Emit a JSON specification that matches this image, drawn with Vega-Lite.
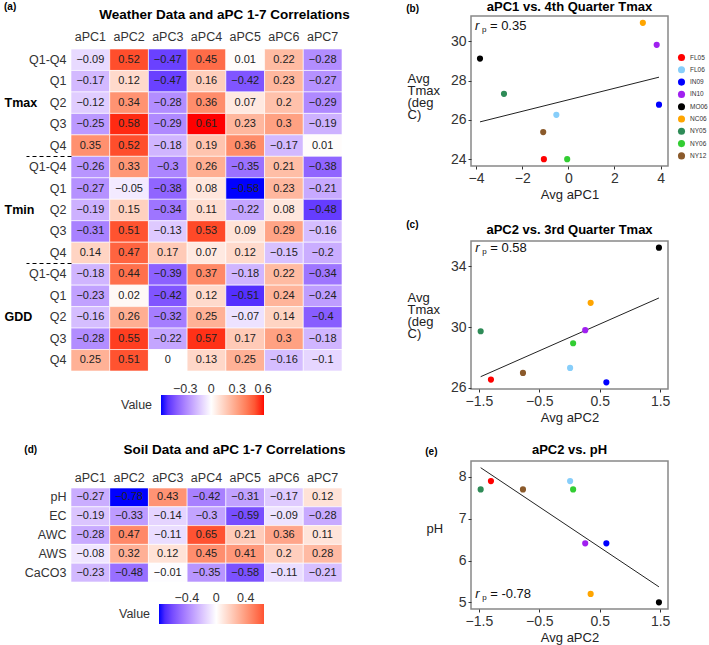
{
  "padding": {"left": 4, "top": 0, "right": 0, "bottom": 0},
  "spacing": 56,
  "config": {
    "font": "Liberation Sans",
    "view": {"stroke": null},
    "axis": {"labelFont": "Liberation Sans", "titleFont": "Liberation Sans", "grid": false},
    "legend": {"labelFont": "Liberation Sans", "titleFont": "Liberation Sans"},
    "title": {"font": "Liberation Sans"}
  },
  "hconcat": [
    {
      "spacing": 70,
      "vconcat": [
        {
          "title": {"text": "(a)", "anchor": "start", "frame": "bounds", "fontSize": 10, "fontWeight": "bold", "offset": -4},
          "spacing": 5,
          "vconcat": [
            {
              "title": {"text": "Weather Data and aPC 1-7 Correlations", "fontSize": 13.5, "fontWeight": "bold", "color": "#000", "anchor": "middle", "dx": 18, "offset": -5},
              "width": 271,
              "height": 12,
              "data": {"values": [{"c": "aPC1"}, {"c": "aPC2"}, {"c": "aPC3"}, {"c": "aPC4"}, {"c": "aPC5"}, {"c": "aPC6"}, {"c": "aPC7"}]},
              "mark": {"type": "rect", "opacity": 0},
              "encoding": {
                "x": {"field": "c", "type": "nominal", "sort": null, "axis": {"orient": "bottom", "title": null, "domain": false, "ticks": false, "labelAngle": 0, "labelFontSize": 12.5, "labelColor": "#333", "labelPadding": 2.5}}
              }
            },
            {
              "width": 271,
              "height": 322,
              "data": {"values": [
                {"k":"Tmax:Q1-Q4","g":"Tmax","c":"aPC1","v":-0.09},{"k":"Tmax:Q1-Q4","g":"Tmax","c":"aPC2","v":0.52},{"k":"Tmax:Q1-Q4","g":"Tmax","c":"aPC3","v":-0.47},{"k":"Tmax:Q1-Q4","g":"Tmax","c":"aPC4","v":0.45},{"k":"Tmax:Q1-Q4","g":"Tmax","c":"aPC5","v":0.01},{"k":"Tmax:Q1-Q4","g":"Tmax","c":"aPC6","v":0.22},{"k":"Tmax:Q1-Q4","g":"Tmax","c":"aPC7","v":-0.28},
                {"k":"Tmax:Q1","g":"Tmax","c":"aPC1","v":-0.17},{"k":"Tmax:Q1","g":"Tmax","c":"aPC2","v":0.12},{"k":"Tmax:Q1","g":"Tmax","c":"aPC3","v":-0.47},{"k":"Tmax:Q1","g":"Tmax","c":"aPC4","v":0.16},{"k":"Tmax:Q1","g":"Tmax","c":"aPC5","v":-0.42},{"k":"Tmax:Q1","g":"Tmax","c":"aPC6","v":0.23},{"k":"Tmax:Q1","g":"Tmax","c":"aPC7","v":-0.27},
                {"k":"Tmax:Q2","g":"Tmax","c":"aPC1","v":-0.12},{"k":"Tmax:Q2","g":"Tmax","c":"aPC2","v":0.34},{"k":"Tmax:Q2","g":"Tmax","c":"aPC3","v":-0.28},{"k":"Tmax:Q2","g":"Tmax","c":"aPC4","v":0.36},{"k":"Tmax:Q2","g":"Tmax","c":"aPC5","v":0.07},{"k":"Tmax:Q2","g":"Tmax","c":"aPC6","v":0.2},{"k":"Tmax:Q2","g":"Tmax","c":"aPC7","v":-0.29},
                {"k":"Tmax:Q3","g":"Tmax","c":"aPC1","v":-0.25},{"k":"Tmax:Q3","g":"Tmax","c":"aPC2","v":0.58},{"k":"Tmax:Q3","g":"Tmax","c":"aPC3","v":-0.29},{"k":"Tmax:Q3","g":"Tmax","c":"aPC4","v":0.61},{"k":"Tmax:Q3","g":"Tmax","c":"aPC5","v":0.23},{"k":"Tmax:Q3","g":"Tmax","c":"aPC6","v":0.3},{"k":"Tmax:Q3","g":"Tmax","c":"aPC7","v":-0.19},
                {"k":"Tmax:Q4","g":"Tmax","c":"aPC1","v":0.35},{"k":"Tmax:Q4","g":"Tmax","c":"aPC2","v":0.52},{"k":"Tmax:Q4","g":"Tmax","c":"aPC3","v":-0.18},{"k":"Tmax:Q4","g":"Tmax","c":"aPC4","v":0.19},{"k":"Tmax:Q4","g":"Tmax","c":"aPC5","v":0.36},{"k":"Tmax:Q4","g":"Tmax","c":"aPC6","v":-0.17},{"k":"Tmax:Q4","g":"Tmax","c":"aPC7","v":0.01},
                {"k":"Tmin:Q1-Q4","g":"Tmin","c":"aPC1","v":-0.26},{"k":"Tmin:Q1-Q4","g":"Tmin","c":"aPC2","v":0.33},{"k":"Tmin:Q1-Q4","g":"Tmin","c":"aPC3","v":-0.3},{"k":"Tmin:Q1-Q4","g":"Tmin","c":"aPC4","v":0.26},{"k":"Tmin:Q1-Q4","g":"Tmin","c":"aPC5","v":-0.35},{"k":"Tmin:Q1-Q4","g":"Tmin","c":"aPC6","v":0.21},{"k":"Tmin:Q1-Q4","g":"Tmin","c":"aPC7","v":-0.38},
                {"k":"Tmin:Q1","g":"Tmin","c":"aPC1","v":-0.27},{"k":"Tmin:Q1","g":"Tmin","c":"aPC2","v":-0.05},{"k":"Tmin:Q1","g":"Tmin","c":"aPC3","v":-0.38},{"k":"Tmin:Q1","g":"Tmin","c":"aPC4","v":0.08},{"k":"Tmin:Q1","g":"Tmin","c":"aPC5","v":-0.58},{"k":"Tmin:Q1","g":"Tmin","c":"aPC6","v":0.23},{"k":"Tmin:Q1","g":"Tmin","c":"aPC7","v":-0.21},
                {"k":"Tmin:Q2","g":"Tmin","c":"aPC1","v":-0.19},{"k":"Tmin:Q2","g":"Tmin","c":"aPC2","v":0.15},{"k":"Tmin:Q2","g":"Tmin","c":"aPC3","v":-0.34},{"k":"Tmin:Q2","g":"Tmin","c":"aPC4","v":0.11},{"k":"Tmin:Q2","g":"Tmin","c":"aPC5","v":-0.22},{"k":"Tmin:Q2","g":"Tmin","c":"aPC6","v":0.08},{"k":"Tmin:Q2","g":"Tmin","c":"aPC7","v":-0.48},
                {"k":"Tmin:Q3","g":"Tmin","c":"aPC1","v":-0.31},{"k":"Tmin:Q3","g":"Tmin","c":"aPC2","v":0.51},{"k":"Tmin:Q3","g":"Tmin","c":"aPC3","v":-0.13},{"k":"Tmin:Q3","g":"Tmin","c":"aPC4","v":0.53},{"k":"Tmin:Q3","g":"Tmin","c":"aPC5","v":0.09},{"k":"Tmin:Q3","g":"Tmin","c":"aPC6","v":0.29},{"k":"Tmin:Q3","g":"Tmin","c":"aPC7","v":-0.16},
                {"k":"Tmin:Q4","g":"Tmin","c":"aPC1","v":0.14},{"k":"Tmin:Q4","g":"Tmin","c":"aPC2","v":0.47},{"k":"Tmin:Q4","g":"Tmin","c":"aPC3","v":0.17},{"k":"Tmin:Q4","g":"Tmin","c":"aPC4","v":0.07},{"k":"Tmin:Q4","g":"Tmin","c":"aPC5","v":0.12},{"k":"Tmin:Q4","g":"Tmin","c":"aPC6","v":-0.15},{"k":"Tmin:Q4","g":"Tmin","c":"aPC7","v":-0.2},
                {"k":"GDD:Q1-Q4","g":"GDD","c":"aPC1","v":-0.18},{"k":"GDD:Q1-Q4","g":"GDD","c":"aPC2","v":0.44},{"k":"GDD:Q1-Q4","g":"GDD","c":"aPC3","v":-0.39},{"k":"GDD:Q1-Q4","g":"GDD","c":"aPC4","v":0.37},{"k":"GDD:Q1-Q4","g":"GDD","c":"aPC5","v":-0.18},{"k":"GDD:Q1-Q4","g":"GDD","c":"aPC6","v":0.22},{"k":"GDD:Q1-Q4","g":"GDD","c":"aPC7","v":-0.34},
                {"k":"GDD:Q1","g":"GDD","c":"aPC1","v":-0.23},{"k":"GDD:Q1","g":"GDD","c":"aPC2","v":0.02},{"k":"GDD:Q1","g":"GDD","c":"aPC3","v":-0.42},{"k":"GDD:Q1","g":"GDD","c":"aPC4","v":0.12},{"k":"GDD:Q1","g":"GDD","c":"aPC5","v":-0.51},{"k":"GDD:Q1","g":"GDD","c":"aPC6","v":0.24},{"k":"GDD:Q1","g":"GDD","c":"aPC7","v":-0.24},
                {"k":"GDD:Q2","g":"GDD","c":"aPC1","v":-0.16},{"k":"GDD:Q2","g":"GDD","c":"aPC2","v":0.26},{"k":"GDD:Q2","g":"GDD","c":"aPC3","v":-0.32},{"k":"GDD:Q2","g":"GDD","c":"aPC4","v":0.25},{"k":"GDD:Q2","g":"GDD","c":"aPC5","v":-0.07},{"k":"GDD:Q2","g":"GDD","c":"aPC6","v":0.14},{"k":"GDD:Q2","g":"GDD","c":"aPC7","v":-0.4},
                {"k":"GDD:Q3","g":"GDD","c":"aPC1","v":-0.28},{"k":"GDD:Q3","g":"GDD","c":"aPC2","v":0.55},{"k":"GDD:Q3","g":"GDD","c":"aPC3","v":-0.22},{"k":"GDD:Q3","g":"GDD","c":"aPC4","v":0.57},{"k":"GDD:Q3","g":"GDD","c":"aPC5","v":0.17},{"k":"GDD:Q3","g":"GDD","c":"aPC6","v":0.3},{"k":"GDD:Q3","g":"GDD","c":"aPC7","v":-0.18},
                {"k":"GDD:Q4","g":"GDD","c":"aPC1","v":0.25},{"k":"GDD:Q4","g":"GDD","c":"aPC2","v":0.51},{"k":"GDD:Q4","g":"GDD","c":"aPC3","v":0},{"k":"GDD:Q4","g":"GDD","c":"aPC4","v":0.13},{"k":"GDD:Q4","g":"GDD","c":"aPC5","v":0.25},{"k":"GDD:Q4","g":"GDD","c":"aPC6","v":-0.16},{"k":"GDD:Q4","g":"GDD","c":"aPC7","v":-0.1}
              ]},
              "layer": [
                {
                  "layer": [
                    {
                      "mark": {"type": "rect", "stroke": "white", "strokeWidth": 0.6},
                      "encoding": {
                        "x": {"field": "c", "type": "nominal", "sort": null, "axis": null},
                        "y": {"field": "k", "type": "nominal", "sort": null, "axis": {"orient": "left", "title": null, "domain": false, "labelExpr": "split(datum.label, ':')[1]", "labelFontSize": 12.5, "labelColor": "#333", "tickSize": 45, "bandPosition": 1, "tickDash": [4, 3], "tickColor": "#000", "tickWidth": 1.2, "tickOpacity": {"condition": {"test": "datum.value === 'Tmax:Q4' || datum.value === 'Tmin:Q4'", "value": 1}, "value": 0}, "labelPadding": -40}},
                        "color": {"field": "v", "type": "quantitative", "scale": {"domain": [-0.58, 0, 0.61], "range": ["#0000ff", "#ffffff", "#ff0000"], "interpolate": "lab"}, "legend": {"title": "Value", "titleOrient": "left", "titleFontSize": 12.5, "titleFontWeight": "normal", "titleColor": "#333", "titlePadding": 8, "orient": "none", "legendX": 50, "legendY": 379, "direction": "horizontal", "gradientLength": 103, "gradientThickness": 20, "values": [-0.3, 0, 0.3, 0.6], "format": "~g", "labelOffset": -32, "labelFontSize": 12.5, "labelColor": "#333"}}
                      }
                    },
                    {
                      "mark": {"type": "text", "fontSize": 11, "color": "#222"},
                      "encoding": {
                        "x": {"field": "c", "type": "nominal", "sort": null},
                        "y": {"field": "k", "type": "nominal", "sort": null},
                        "text": {"field": "v", "type": "quantitative"}
                      }
                    }
                  ]
                },
                {
                  "mark": {"type": "rect", "opacity": 0},
                  "encoding": {
                    "x": {"field": "c", "type": "nominal", "sort": null},
                    "y": {"field": "g", "type": "nominal", "sort": null, "axis": {"orient": "left", "offset": 67, "title": null, "domain": false, "ticks": false, "tickSize": 0, "labelAlign": "left", "labelFontWeight": "bold", "labelFontSize": 12.5, "labelColor": "#000", "labelPadding": 0}}
                  }
                }
              ],
              "resolve": {"scale": {"y": "independent"}, "axis": {"y": "independent"}}
            }
          ]
        },
        {
          "title": {"text": "(d)", "anchor": "start", "frame": "bounds", "fontSize": 10, "fontWeight": "bold", "offset": -13},
          "width": 271,
          "height": 94,
          "data": {"values": [
            {"s":"pH","c":"aPC1","v":-0.27},{"s":"pH","c":"aPC2","v":-0.78},{"s":"pH","c":"aPC3","v":0.43},{"s":"pH","c":"aPC4","v":-0.42},{"s":"pH","c":"aPC5","v":-0.31},{"s":"pH","c":"aPC6","v":-0.17},{"s":"pH","c":"aPC7","v":0.12},
            {"s":"EC","c":"aPC1","v":-0.19},{"s":"EC","c":"aPC2","v":-0.33},{"s":"EC","c":"aPC3","v":-0.14},{"s":"EC","c":"aPC4","v":-0.3},{"s":"EC","c":"aPC5","v":-0.59},{"s":"EC","c":"aPC6","v":-0.09},{"s":"EC","c":"aPC7","v":-0.28},
            {"s":"AWC","c":"aPC1","v":-0.28},{"s":"AWC","c":"aPC2","v":0.47},{"s":"AWC","c":"aPC3","v":-0.11},{"s":"AWC","c":"aPC4","v":0.65},{"s":"AWC","c":"aPC5","v":0.21},{"s":"AWC","c":"aPC6","v":0.36},{"s":"AWC","c":"aPC7","v":0.11},
            {"s":"AWS","c":"aPC1","v":-0.08},{"s":"AWS","c":"aPC2","v":0.32},{"s":"AWS","c":"aPC3","v":0.12},{"s":"AWS","c":"aPC4","v":0.45},{"s":"AWS","c":"aPC5","v":0.41},{"s":"AWS","c":"aPC6","v":0.2},{"s":"AWS","c":"aPC7","v":0.28},
            {"s":"CaCO3","c":"aPC1","v":-0.23},{"s":"CaCO3","c":"aPC2","v":-0.48},{"s":"CaCO3","c":"aPC3","v":-0.01},{"s":"CaCO3","c":"aPC4","v":-0.35},{"s":"CaCO3","c":"aPC5","v":-0.58},{"s":"CaCO3","c":"aPC6","v":-0.11},{"s":"CaCO3","c":"aPC7","v":-0.21}
          ]},
          "layer": [
            {
              "mark": {"type": "rect", "stroke": "white", "strokeWidth": 0.6},
              "encoding": {
                "x": {"field": "c", "type": "nominal", "sort": null, "axis": {"orient": "top", "title": "Soil Data and aPC 1-7 Correlations", "titleFontSize": 13.5, "titleFontWeight": "bold", "titleColor": "#000", "titlePadding": 15, "titleX": 163, "titleAlign": "center", "domain": false, "ticks": false, "labelAngle": 0, "labelFontSize": 12.5, "labelColor": "#333", "labelPadding": 4}},
                "y": {"field": "s", "type": "nominal", "sort": null, "axis": {"title": null, "domain": false, "ticks": false, "tickSize": 0, "labelFontSize": 12.5, "labelColor": "#333", "labelPadding": 5}},
                "fill": {"field": "v", "type": "quantitative", "scale": {"domain": [-0.78, 0, 0.65], "range": ["#0000ff", "#ffffff", "#ff5232"], "interpolate": "lab"}, "legend": {"title": "Value", "titleOrient": "left", "titleFontSize": 12.5, "titleFontWeight": "normal", "titleColor": "#333", "titlePadding": 8, "orient": "none", "legendX": 48, "legendY": 588, "direction": "horizontal", "gradientLength": 105, "gradientThickness": 20, "values": [-0.4, 0, 0.4], "format": "~g", "labelOffset": -32, "labelFontSize": 12.5, "labelColor": "#333"}}
              }
            },
            {
              "mark": {"type": "text", "fontSize": 11, "color": "#222"},
              "encoding": {
                "x": {"field": "c", "type": "nominal", "sort": null},
                "y": {"field": "s", "type": "nominal", "sort": null},
                "text": {"field": "v", "type": "quantitative"}
              }
            }
          ]
        }
      ]
    },
    {
      "spacing": 18,
      "vconcat": [
        {
          "title": {"text": "(b)", "anchor": "start", "frame": "bounds", "fontSize": 10, "fontWeight": "bold", "offset": -14},
          "vconcat": [
            {
              "title": {"text": "aPC1 vs. 4th Quarter Tmax", "fontSize": 13, "fontWeight": "bold", "anchor": "middle", "offset": 2},
              "width": 197,
              "height": 150,
              "view": {"stroke": "#888", "strokeWidth": 1.5},
              "layer": [
                {
                  "data": {"values": [{"x": -3.83, "y": 25.9}, {"x": 3.93, "y": 28.18}]},
                  "mark": {"type": "line", "color": "#222", "strokeWidth": 1},
                  "encoding": {
                    "x": {"field": "x", "type": "quantitative", "scale": {"domain": [-4.22, 4.32], "nice": false, "zero": false}, "axis": {"title": "Avg aPC1", "titleFontSize": 13, "titleFontWeight": "normal", "titleColor": "#222", "titlePadding": 3, "values": [-4, -2, 0, 2, 4], "format": "~g", "domain": false, "tickSize": 3, "tickColor": "#333", "labelFontSize": 14, "labelColor": "#333", "labelPadding": 2}},
                    "y": {"field": "y", "type": "quantitative", "scale": {"domain": [23.65, 31.3], "nice": false, "zero": false}, "axis": {"title": ["Avg", "Tmax", "(deg", "C)"], "titleAngle": 0, "titleAlign": "left", "titleBaseline": "top", "titleX": -64, "titleY": 56, "titleFontSize": 13, "titleFontWeight": "normal", "titleColor": "#222", "titleLineHeight": 12.3, "values": [24, 26, 28, 30], "format": "~g", "domain": false, "tickSize": 3, "tickColor": "#333", "labelFontSize": 14, "labelColor": "#333", "labelPadding": 2}}
                  }
                },
                {
                  "data": {"values": [
                    {"site": "FL05", "x": -1.06, "y": 24.0}, {"site": "FL06", "x": -0.52, "y": 26.26}, {"site": "IN09", "x": 3.93, "y": 26.78},
                    {"site": "IN10", "x": 3.83, "y": 29.83}, {"site": "MO06", "x": -3.83, "y": 29.13}, {"site": "NC06", "x": 3.23, "y": 30.95},
                    {"site": "NY05", "x": -2.79, "y": 27.33}, {"site": "NY06", "x": -0.05, "y": 24.0}, {"site": "NY12", "x": -1.09, "y": 25.38}
                  ]},
                  "mark": {"type": "circle", "size": 38, "opacity": 1},
                  "encoding": {
                    "x": {"field": "x", "type": "quantitative"},
                    "y": {"field": "y", "type": "quantitative"},
                    "color": {"field": "site", "type": "nominal", "scale": {"domain": ["FL05", "FL06", "IN09", "IN10", "MO06", "NC06", "NY05", "NY06", "NY12"], "range": ["#ff0000", "#87cefa", "#0000ff", "#a020f0", "#000000", "#ffa500", "#2e8b57", "#32cd32", "#8b5a2b"]}, "legend": {"title": null, "orient": "none", "legendX": 206, "legendY": 37, "symbolSize": 50, "symbolType": "circle", "labelFontSize": 6.5, "labelColor": "#333", "rowPadding": 3.3, "labelOffset": 4}}
                  }
                },
                {
                  "data": {"values": [{"x": -4.05, "y": 30.79, "a": "r", "b": "p", "t": "= 0.35"}]},
                  "layer": [
                    {"mark": {"type": "text", "align": "left", "baseline": "middle", "fontSize": 13, "fontStyle": "italic", "color": "#111"}, "encoding": {"x": {"field": "x", "type": "quantitative"}, "y": {"field": "y", "type": "quantitative"}, "text": {"field": "a"}}},
                    {"mark": {"type": "text", "align": "left", "baseline": "middle", "fontSize": 8, "dx": 7, "dy": 4, "color": "#111"}, "encoding": {"x": {"field": "x", "type": "quantitative"}, "y": {"field": "y", "type": "quantitative"}, "text": {"field": "b"}}},
                    {"mark": {"type": "text", "align": "left", "baseline": "middle", "fontSize": 13, "dx": 15, "color": "#111"}, "encoding": {"x": {"field": "x", "type": "quantitative"}, "y": {"field": "y", "type": "quantitative"}, "text": {"field": "t"}}}
                  ]
                }
              ]
            }
          ]
        },
        {
          "title": {"text": "(c)", "anchor": "start", "frame": "bounds", "fontSize": 10, "fontWeight": "bold", "offset": -7},
          "vconcat": [
            {
              "title": {"text": "aPC2 vs. 3rd Quarter Tmax", "fontSize": 13, "fontWeight": "bold", "anchor": "middle", "offset": 4},
              "width": 197,
              "height": 148,
              "view": {"stroke": "#888", "strokeWidth": 1.5},
              "layer": [
                {
                  "data": {"values": [{"x": -1.47, "y": 26.74}, {"x": 1.48, "y": 31.92}]},
                  "mark": {"type": "line", "color": "#222", "strokeWidth": 1},
                  "encoding": {
                    "x": {"field": "x", "type": "quantitative", "scale": {"domain": [-1.63, 1.63], "nice": false, "zero": false}, "axis": {"title": "Avg aPC2", "titleFontSize": 13, "titleFontWeight": "normal", "titleColor": "#222", "titlePadding": 3, "values": [-1.5, -1, -0.5, 0, 0.5, 1, 1.5], "format": "~g", "domain": false, "tickSize": 3, "tickColor": "#333", "labelFontSize": 14, "labelColor": "#333", "labelPadding": 2}},
                    "y": {"field": "y", "type": "quantitative", "scale": {"domain": [25.93, 35.67], "nice": false, "zero": false}, "axis": {"title": ["Avg", "Tmax", "(deg", "C)"], "titleAngle": 0, "titleAlign": "left", "titleBaseline": "top", "titleX": -64, "titleY": 50, "titleFontSize": 13, "titleFontWeight": "normal", "titleColor": "#222", "titleLineHeight": 12.3, "values": [26, 28, 30, 32, 34], "format": "~g", "domain": false, "tickSize": 3, "tickColor": "#333", "labelFontSize": 14, "labelColor": "#333", "labelPadding": 2}}
                  }
                },
                {
                  "data": {"values": [
                    {"site": "FL05", "x": -1.3, "y": 26.55}, {"site": "FL06", "x": 0.01, "y": 27.32}, {"site": "IN09", "x": 0.61, "y": 26.37},
                    {"site": "IN10", "x": 0.26, "y": 29.8}, {"site": "MO06", "x": 1.48, "y": 35.23}, {"site": "NC06", "x": 0.35, "y": 31.6},
                    {"site": "NY05", "x": -1.47, "y": 29.73}, {"site": "NY06", "x": 0.06, "y": 28.94}, {"site": "NY12", "x": -0.77, "y": 26.99}
                  ]},
                  "mark": {"type": "circle", "size": 38, "opacity": 1},
                  "encoding": {
                    "x": {"field": "x", "type": "quantitative"},
                    "y": {"field": "y", "type": "quantitative"},
                    "color": {"field": "site", "type": "nominal", "scale": {"domain": ["FL05", "FL06", "IN09", "IN10", "MO06", "NC06", "NY05", "NY06", "NY12"], "range": ["#ff0000", "#87cefa", "#0000ff", "#a020f0", "#000000", "#ffa500", "#2e8b57", "#32cd32", "#8b5a2b"]}, "legend": {"title": null, "orient": "none", "legendX": 206, "legendY": 19, "symbolSize": 50, "symbolType": "circle", "labelFontSize": 6.5, "labelColor": "#333", "rowPadding": 3.3, "labelOffset": 4}}
                  }
                },
                {
                  "data": {"values": [{"x": -1.56, "y": 35.2, "a": "r", "b": "p", "t": "= 0.58"}]},
                  "layer": [
                    {"mark": {"type": "text", "align": "left", "baseline": "middle", "fontSize": 13, "fontStyle": "italic", "color": "#111"}, "encoding": {"x": {"field": "x", "type": "quantitative"}, "y": {"field": "y", "type": "quantitative"}, "text": {"field": "a"}}},
                    {"mark": {"type": "text", "align": "left", "baseline": "middle", "fontSize": 8, "dx": 7, "dy": 4, "color": "#111"}, "encoding": {"x": {"field": "x", "type": "quantitative"}, "y": {"field": "y", "type": "quantitative"}, "text": {"field": "b"}}},
                    {"mark": {"type": "text", "align": "left", "baseline": "middle", "fontSize": 13, "dx": 15, "color": "#111"}, "encoding": {"x": {"field": "x", "type": "quantitative"}, "y": {"field": "y", "type": "quantitative"}, "text": {"field": "t"}}}
                  ]
                }
              ]
            }
          ]
        },
        {
          "title": {"text": "(e)", "anchor": "start", "frame": "bounds", "fontSize": 10, "fontWeight": "bold", "offset": -14},
          "vconcat": [
            {
              "title": {"text": "aPC2 vs. pH", "fontSize": 13, "fontWeight": "bold", "anchor": "middle", "offset": 4},
              "width": 197,
              "height": 148,
              "view": {"stroke": "#888", "strokeWidth": 1.5},
              "layer": [
                {
                  "data": {"values": [{"x": -1.47, "y": 8.22}, {"x": 1.48, "y": 5.37}]},
                  "mark": {"type": "line", "color": "#222", "strokeWidth": 1},
                  "encoding": {
                    "x": {"field": "x", "type": "quantitative", "scale": {"domain": [-1.63, 1.63], "nice": false, "zero": false}, "axis": {"title": "Avg aPC2", "titleFontSize": 13, "titleFontWeight": "normal", "titleColor": "#222", "titlePadding": 3, "values": [-1.5, -1, -0.5, 0, 0.5, 1, 1.5], "format": "~g", "domain": false, "tickSize": 3, "tickColor": "#333", "labelFontSize": 14, "labelColor": "#333", "labelPadding": 2}},
                    "y": {"field": "y", "type": "quantitative", "scale": {"domain": [4.84, 8.38], "nice": false, "zero": false}, "axis": {"title": "pH", "titleAngle": 0, "titleAlign": "left", "titleBaseline": "middle", "titleX": -45, "titleY": 67, "titleFontSize": 13, "titleFontWeight": "normal", "titleColor": "#222", "values": [5, 6, 7, 8], "format": "~g", "domain": false, "tickSize": 3, "tickColor": "#333", "labelFontSize": 14, "labelColor": "#333", "labelPadding": 2}}
                  }
                },
                {
                  "data": {"values": [
                    {"site": "FL05", "x": -1.3, "y": 7.9}, {"site": "FL06", "x": 0.01, "y": 7.9}, {"site": "IN09", "x": 0.61, "y": 6.41},
                    {"site": "IN10", "x": 0.26, "y": 6.41}, {"site": "MO06", "x": 1.48, "y": 5.0}, {"site": "NC06", "x": 0.35, "y": 5.2},
                    {"site": "NY05", "x": -1.47, "y": 7.7}, {"site": "NY06", "x": 0.06, "y": 7.7}, {"site": "NY12", "x": -0.77, "y": 7.7}
                  ]},
                  "mark": {"type": "circle", "size": 38, "opacity": 1},
                  "encoding": {
                    "x": {"field": "x", "type": "quantitative"},
                    "y": {"field": "y", "type": "quantitative"},
                    "color": {"field": "site", "type": "nominal", "scale": {"domain": ["FL05", "FL06", "IN09", "IN10", "MO06", "NC06", "NY05", "NY06", "NY12"], "range": ["#ff0000", "#87cefa", "#0000ff", "#a020f0", "#000000", "#ffa500", "#2e8b57", "#32cd32", "#8b5a2b"]}, "legend": {"title": null, "orient": "none", "legendX": 206, "legendY": 24, "symbolSize": 50, "symbolType": "circle", "labelFontSize": 6.5, "labelColor": "#333", "rowPadding": 3.3, "labelOffset": 4}}
                  }
                },
                {
                  "data": {"values": [{"x": -1.56, "y": 5.2, "a": "r", "b": "p", "t": "= -0.78"}]},
                  "layer": [
                    {"mark": {"type": "text", "align": "left", "baseline": "middle", "fontSize": 13, "fontStyle": "italic", "color": "#111"}, "encoding": {"x": {"field": "x", "type": "quantitative"}, "y": {"field": "y", "type": "quantitative"}, "text": {"field": "a"}}},
                    {"mark": {"type": "text", "align": "left", "baseline": "middle", "fontSize": 8, "dx": 7, "dy": 4, "color": "#111"}, "encoding": {"x": {"field": "x", "type": "quantitative"}, "y": {"field": "y", "type": "quantitative"}, "text": {"field": "b"}}},
                    {"mark": {"type": "text", "align": "left", "baseline": "middle", "fontSize": 13, "dx": 15, "color": "#111"}, "encoding": {"x": {"field": "x", "type": "quantitative"}, "y": {"field": "y", "type": "quantitative"}, "text": {"field": "t"}}}
                  ]
                }
              ]
            }
          ]
        }
      ]
    }
  ]
}
